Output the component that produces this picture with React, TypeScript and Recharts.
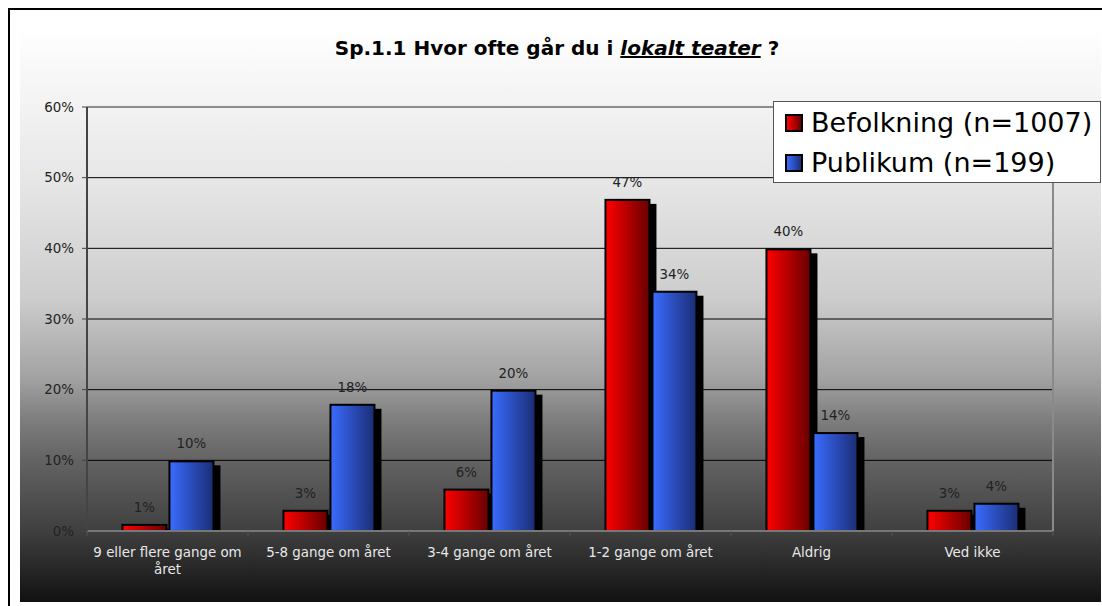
import React from "react"
import { BarChart, Bar, CartesianGrid, XAxis, YAxis, LabelList, ReferenceLine, Text } from "recharts"

const categories = [
    "9 eller flere gange om året",
    "5-8 gange om året",
    "3-4 gange om året",
    "1-2 gange om året",
    "Aldrig",
    "Ved ikke",
]
const befolkning = [1, 3, 6, 47, 40, 3]
const publikum = [10, 18, 20, 34, 14, 4]
const yTicks = [0, 10, 20, 30, 40, 50, 60]
const seriesNames = ["Befolkning (n=1007)", "Publikum (n=199)"]

const data = categories.map((name, i) => ({ name, bef: befolkning[i], pub: publikum[i] }))

const FONT = "'DejaVu Sans', Verdana, sans-serif"

// bar with black drop shadow + outline, like the old excel chart
const ShadowBar = (props: any) => {
    const { x, y, width, height, gradId } = props
    if (!height || height <= 0) return null
    return (
        <g>
            <rect x={x + 6} y={y + 5} width={width} height={Math.max(height - 5, 0)} fill="#000" />
            <rect x={x + 1} y={y + 1} width={width - 2} height={height - 1} fill={`url(#${gradId})`} stroke="#000" strokeWidth={2} />
        </g>
    )
}

const CatTick = (props: any) => {
    const { x, y, payload, index, visibleTicksCount } = props
    const half = payload && payload.offset ? payload.offset : 80.5
    return (
        <g>
            <line x1={x - half} x2={x - half} y1={y} y2={y + 5} stroke="#555" strokeWidth={1} />
            {index === visibleTicksCount - 1 && (
                <line x1={x + half} x2={x + half} y1={y} y2={y + 5} stroke="#555" strokeWidth={1} />
            )}
            <Text
                x={x}
                y={y + 16}
                width={158}
                textAnchor="middle"
                verticalAnchor="start"
                lineHeight="17px"
                fill="#e8e8e8"
                fontSize={13.4}
                fontFamily={FONT}
            >
                {payload.value}
            </Text>
        </g>
    )
}

const LegendBox = () => (
    <div
        style={{
            width: 326,
            height: 80,
            background: "#fff",
            border: "1px solid #555",
            fontFamily: FONT,
            fontSize: 27,
            color: "#000",
            boxSizing: "content-box",
        }}
    >
        {seriesNames.map((n, i) => (
            <div key={n} style={{ display: "flex", alignItems: "center", height: 40, marginTop: i === 0 ? 1 : 0, paddingLeft: 11 }}>
                <span
                    style={{
                        display: "inline-block",
                        flex: "none",
                        width: 14,
                        height: 14,
                        border: "2px solid #000",
                        background: i === 0
                            ? "linear-gradient(to right, #ff0000, #6a0000)"
                            : "linear-gradient(to right, #3a6cff, #1c2f78)",
                        marginRight: 8,
                    }}
                />
                <span style={{ lineHeight: "40px", whiteSpace: "nowrap" }}>{n}</span>
            </div>
        ))}
    </div>
)

const App = () => {
    return (
        <div style={{ position: "absolute", left: 0, top: 0, width: 1102, height: 606, overflow: "hidden", background: "#fff" }}>
            {/* frame + background gradient */}
            <div style={{ position: "absolute", left: 8, top: 8, width: 1094, height: 598, borderLeft: "2px solid #000", borderTop: "2px solid #000" }} />
            <div
                style={{
                    position: "absolute",
                    left: 20,
                    top: 28,
                    width: 1081,
                    height: 574,
                    background:
                        "linear-gradient(to bottom, #ffffff 0%, #f2f2f2 14%, #e6e6e6 27%, #cdcdcd 47%, #a2a2a2 61%, #7f7f7f 68%, #646464 75%, #3e3e3e 88%, #111111 100%)",
                }}
            />
            <div
                style={{
                    position: "absolute",
                    left: 0,
                    top: 36,
                    width: 1114,
                    textAlign: "center",
                    fontFamily: FONT,
                    fontWeight: "bold",
                    fontSize: 20,
                    color: "#000",
                    whiteSpace: "nowrap",
                }}
            >
                Sp.1.1 Hvor ofte går du i <span style={{ fontStyle: "italic", textDecoration: "underline" }}>lokalt teater</span> ?
            </div>
            <div style={{ position: "absolute", left: 0, top: 0 }}>
                <BarChart
                    width={1102}
                    height={606}
                    data={data}
                    margin={{ top: 107, right: 47, left: 27, bottom: 35 }}
                    barCategoryGap="21.4%"
                    barGap={1}
                >
                    <defs>
                        <linearGradient id="gradRed" x1="0" y1="0" x2="1" y2="0">
                            <stop offset="0%" stopColor="#ff0000" />
                            <stop offset="100%" stopColor="#680000" />
                        </linearGradient>
                        <linearGradient id="gradBlue" x1="0" y1="0" x2="1" y2="0">
                            <stop offset="0%" stopColor="#3a6cff" />
                            <stop offset="100%" stopColor="#1b2d74" />
                        </linearGradient>
                    </defs>
                    <CartesianGrid vertical={false} stroke="#000" strokeWidth={1} />
                    <XAxis
                        dataKey="name"
                        interval={0}
                        tickLine={false}
                        tickSize={0}
                        tickMargin={0}
                        height={40}
                        axisLine={{ stroke: "#777", strokeWidth: 2 }}
                        tick={<CatTick />}
                    />
                    <YAxis
                        domain={[0, 60]}
                        ticks={yTicks}
                        width={60}
                        tickSize={5}
                        tickMargin={8}
                        tickFormatter={(v: number) => `${v}%`}
                        axisLine={{ stroke: "#444", strokeWidth: 2 }}
                        tickLine={{ stroke: "#444" }}
                        tick={{ fill: "#222", fontSize: 13.4, fontFamily: FONT }}
                    />
                    <YAxis
                        yAxisId="right"
                        orientation="right"
                        domain={[0, 60]}
                        width={2}
                        tick={false}
                        tickLine={false}
                        axisLine={{ stroke: "#8a8a8a", strokeWidth: 2 }}
                    />
                    <ReferenceLine y={60} stroke="#8c8c8c" strokeWidth={2} />
                    <Bar dataKey="bef" name={seriesNames[0]} isAnimationActive={false} shape={(p: any) => <ShadowBar {...p} gradId="gradRed" />}>
                        <LabelList dataKey="bef" position="top" offset={12} formatter={(v: any) => `${v}%`} fill="#222" fontSize={13.4} fontFamily={FONT} />
                    </Bar>
                    <Bar dataKey="pub" name={seriesNames[1]} isAnimationActive={false} shape={(p: any) => <ShadowBar {...p} gradId="gradBlue" />}>
                        <LabelList dataKey="pub" position="top" offset={12} formatter={(v: any) => `${v}%`} fill="#222" fontSize={13.4} fontFamily={FONT} />
                    </Bar>
                </BarChart>
            </div>
            <div style={{ position: "absolute", left: 773, top: 101 }}>
                <LegendBox />
            </div>
        </div>
    )
}

export default App
